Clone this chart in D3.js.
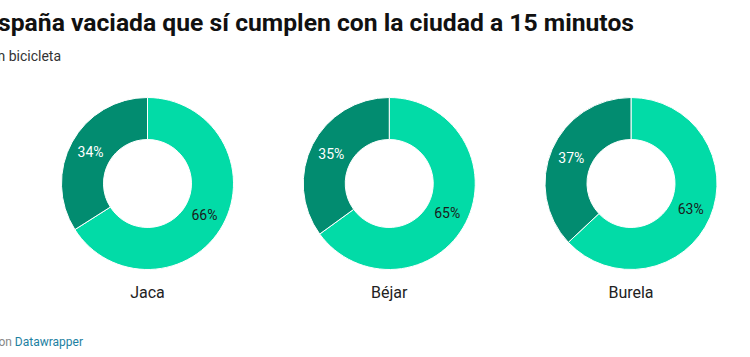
<!DOCTYPE html>
<html>
<head>
<meta charset="utf-8">
<script src="https://cdn.jsdelivr.net/npm/d3@7"></script>
<style>
  html, body { margin: 0; padding: 0; background: #fff; overflow: hidden; }
  svg { display: block; font-family: Roboto, "Noto Sans", sans-serif; }
</style>
</head>
<body>
<svg id="chart" width="750" height="357"></svg>
<script>
const titleText = "La España vaciada que sí cumplen con la ciudad a 15 minutos";
const subtitleText = "Desplazamientos en bicicleta";
const footerPrefix = "Creado con ";
const footerLink = "Datawrapper";

const cities = ["Jaca", "Béjar", "Burela"];
const seriesNames = ["Cumple", "No cumple"];
const cumple = [66, 65, 63];
const noCumple = [34, 35, 37];
const colors = ["#02dba7", "#028c70"];
const labelColors = ["#1b1b1b", "#ffffff"];

const svg = d3.select("#chart");

// Title (cropped at left as in reference): right-anchored
svg.append("text")
  .attr("x", 634).attr("y", 31)
  .attr("text-anchor", "end")
  .attr("font-size", 24.7).attr("font-weight", 700)
  .attr("fill", "#111")
  .text(titleText);

svg.append("text")
  .attr("x", 61).attr("y", 61)
  .attr("text-anchor", "end")
  .attr("font-size", 14)
  .attr("fill", "#333")
  .text(subtitleText);

const foot = svg.append("text")
  .attr("x", 83).attr("y", 346)
  .attr("text-anchor", "end")
  .attr("font-size", 12);
foot.append("tspan").attr("fill", "#888").text(footerPrefix);
foot.append("tspan").attr("fill", "#1d81a2").text(footerLink);

const x = d3.scalePoint().domain(cities).range([147.5, 631]);
const cy = 183.5;
const outerR = 86, innerR = 44;

const pie = d3.pie().sort(null).value(d => d.value);
const arc = d3.arc().innerRadius(innerR).outerRadius(outerR);
const labelArc = d3.arc().innerRadius((innerR + outerR) / 2).outerRadius((innerR + outerR) / 2);

cities.forEach((city, i) => {
  const data = [
    { key: seriesNames[0], value: cumple[i], idx: 0 },
    { key: seriesNames[1], value: noCumple[i], idx: 1 }
  ];
  const g = svg.append("g").attr("transform", `translate(${x(city)},${cy})`);
  const arcs = pie(data);
  g.selectAll("path").data(arcs).join("path")
    .attr("d", arc)
    .attr("fill", d => colors[d.data.idx])
    .attr("stroke", "#fff")
    .attr("stroke-width", 1);
  g.selectAll("text.val").data(arcs).join("text")
    .attr("class", "val")
    .attr("transform", d => `translate(${labelArc.centroid(d)})`)
    .attr("text-anchor", "middle")
    .attr("dy", "0.35em")
    .attr("font-size", 14)
    .attr("fill", d => labelColors[d.data.idx])
    .text(d => d.data.value + "%");
  svg.append("text")
    .attr("x", x(city)).attr("y", 298)
    .attr("text-anchor", "middle")
    .attr("font-size", 16)
    .attr("fill", "#222")
    .text(city);
});
</script>
</body>
</html>
